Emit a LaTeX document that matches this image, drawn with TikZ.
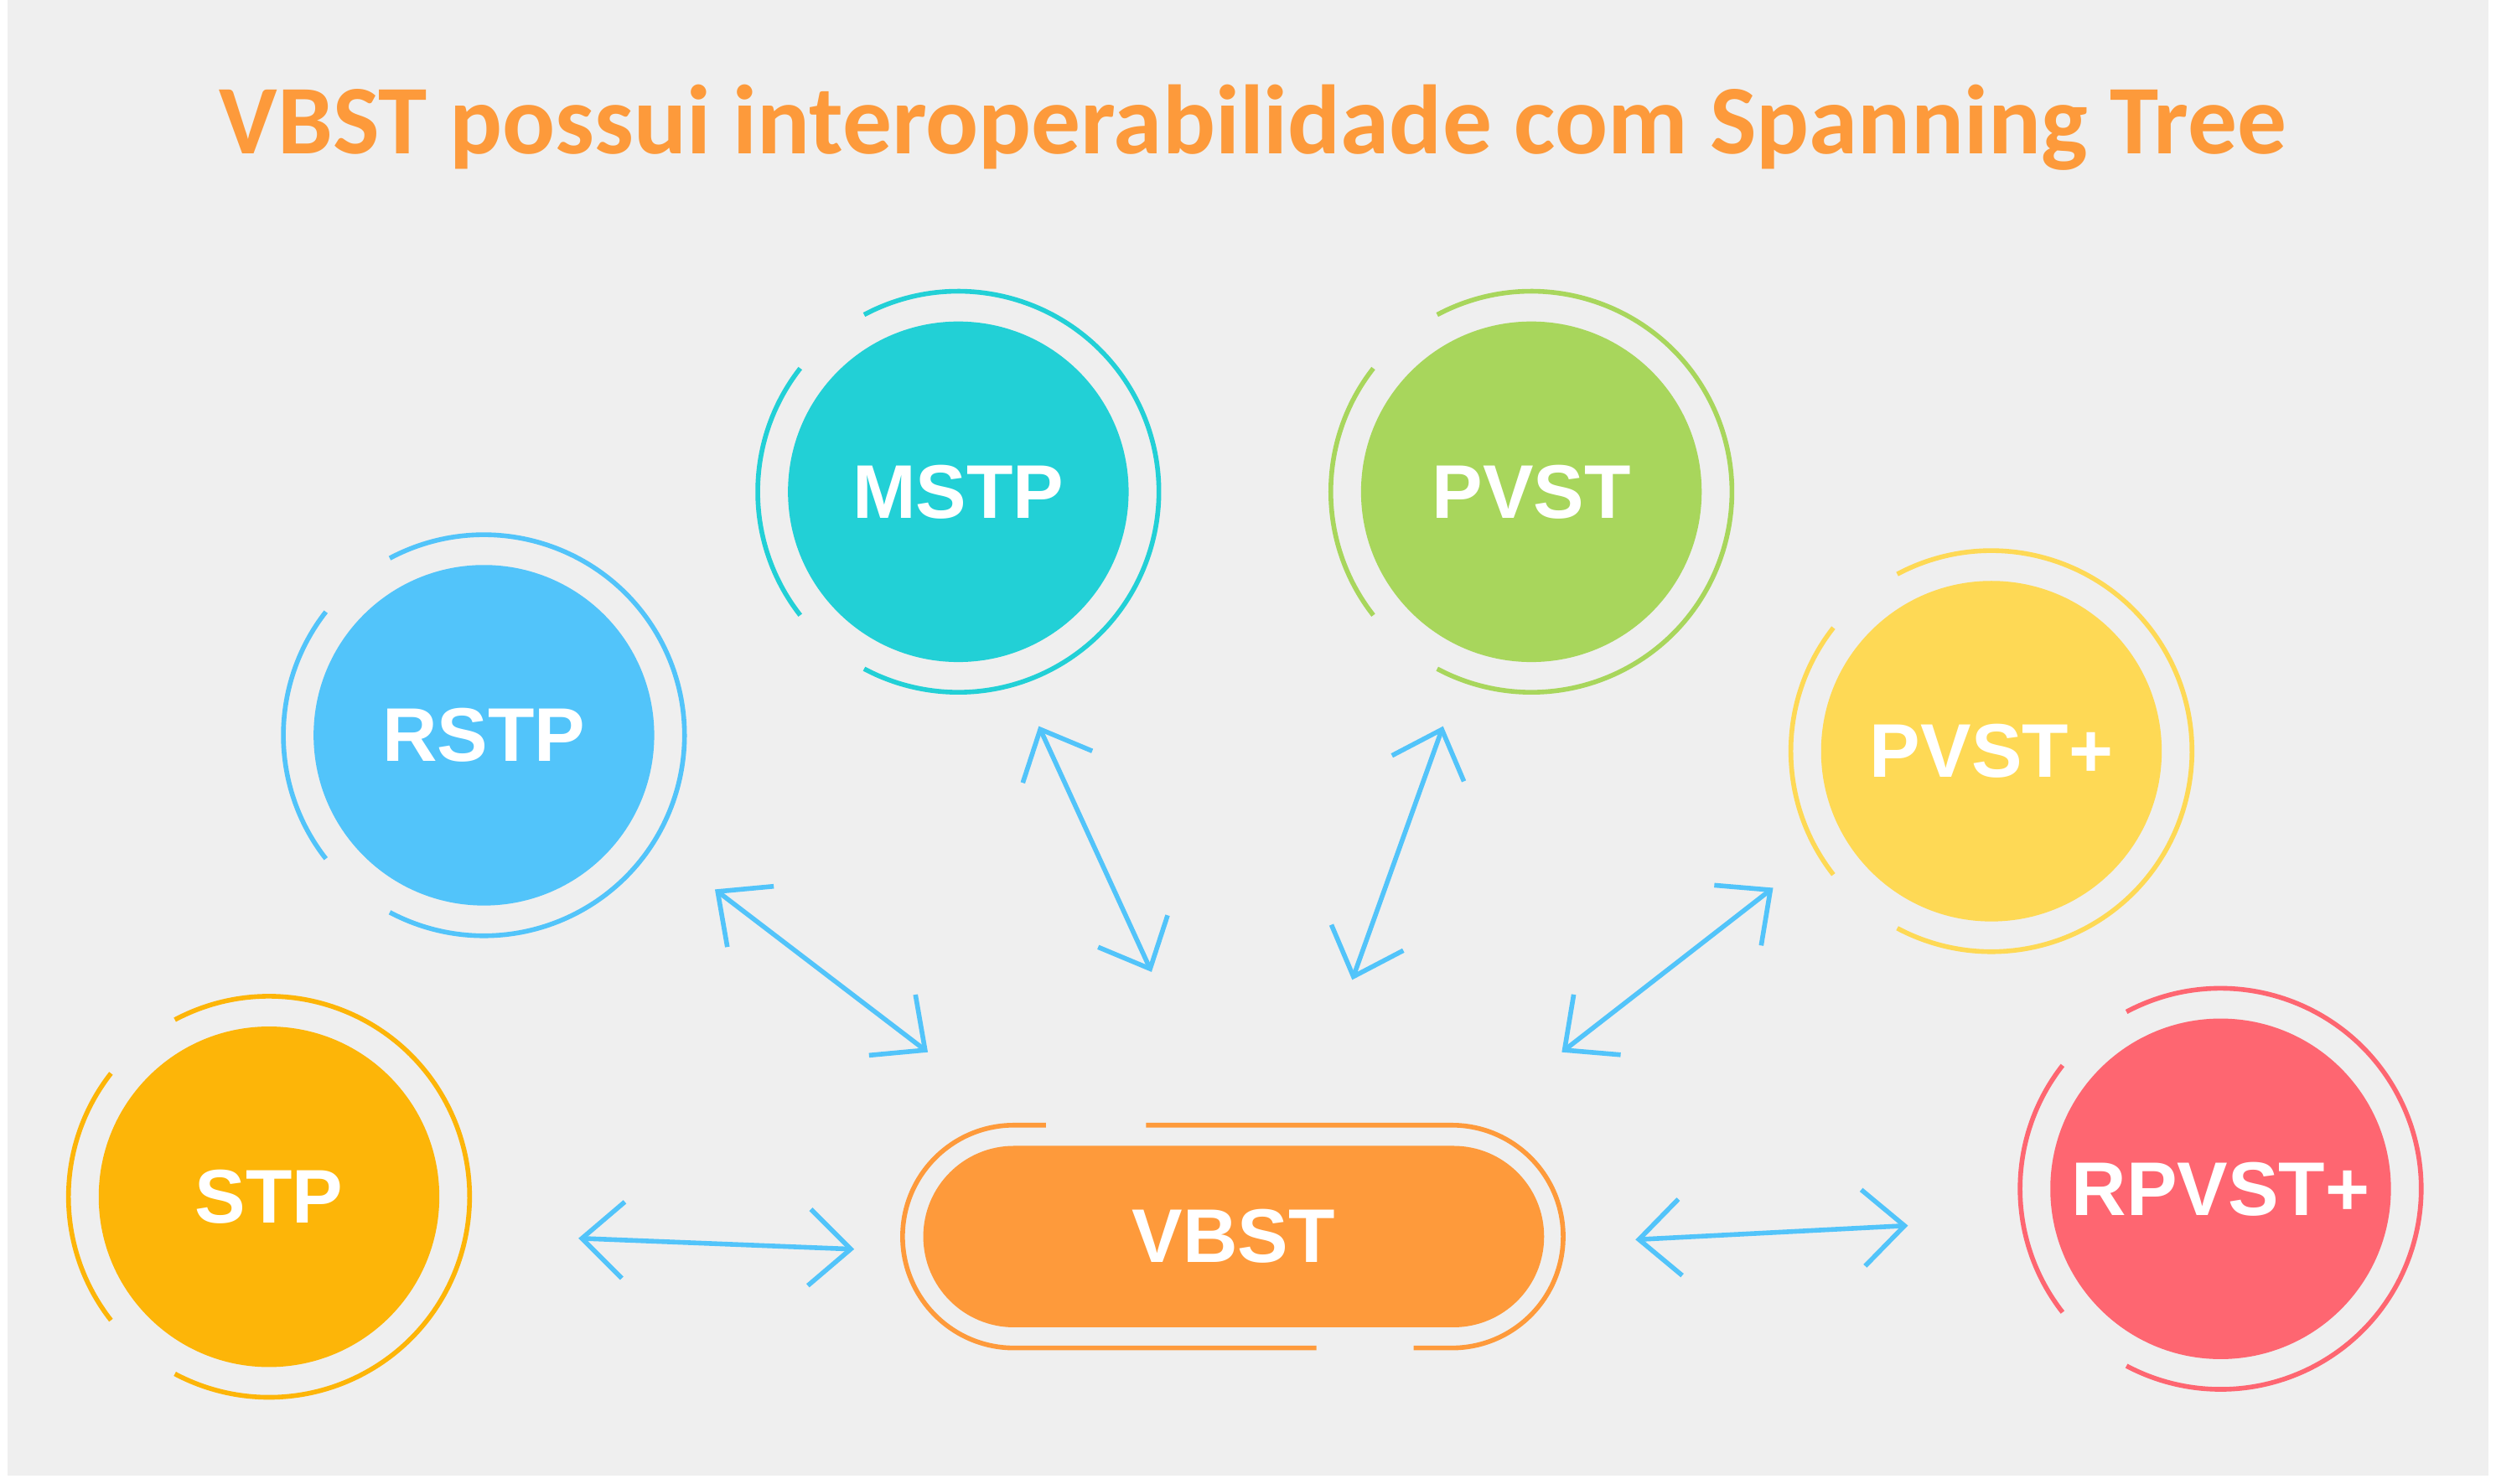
\documentclass[tikz,border=0pt]{standalone}
\usepackage{fontspec}
\setmainfont{Liberation Sans}
\newfontfamily\titlefont{Carlito}
\usetikzlibrary{arrows.meta,calc}
\definecolor{bg}{HTML}{EFEFEF}
\definecolor{ttl}{HTML}{FD9A3B}
\definecolor{cMSTP}{HTML}{22D0D6}
\definecolor{cPVST}{HTML}{A8D65C}
\definecolor{cRSTP}{HTML}{52C4FA}
\definecolor{cPVSTp}{HTML}{FED955}
\definecolor{cSTP}{HTML}{FDB508}
\definecolor{cRPV}{HTML}{FE6671}
\definecolor{cVB}{HTML}{FE9A3B}
\definecolor{arr}{HTML}{52C4FA}
\tikzset{
  ring/.style={line width=4.2pt},
  lbl/.style={text=white,font=\fontsize{68}{68}\selectfont\bfseries},
  dbl/.style={arr,line width=4.2pt,{Straight Barb[length=1.3cm,width=2.4cm,line width=4.2pt]}-{Straight Barb[length=1.3cm,width=2.4cm,line width=4.2pt]},shorten <=2pt,shorten >=2pt}
}
\newcommand\bub[5]{%
  \fill[#4] (#2,#3) circle (5.35cm);
  \node[lbl] (#1) at (#2,#3) {#5};
  \draw[ring,#4] ($(#1.center)+(118:6.3cm)$) arc (118:-118:6.3cm);
  \draw[ring,#4] ($(#1.center)+(142:6.3cm)$) arc (142:218:6.3cm);
}
\begin{document}
\begin{tikzpicture}[x=0.05cm,y=-0.05cm]
\useasboundingbox (0,0) rectangle (1568,932);
\fill[white] (0,0) rectangle (1568,932);
\fill[bg] (5,0) rectangle (1563,927);
\node[text=ttl,font=\titlefont\fontsize{88}{88}\selectfont\bfseries] (title) at (787,80) {VBST possui interoperabilidade com Spanning Tree};
\bub{mstp}{602}{309}{cMSTP}{MSTP}
\bub{pvst}{962}{309}{cPVST}{PVST}
\bub{rstp}{304}{462}{cRSTP}{RSTP}
\bub{pvstp}{1251}{472}{cPVSTp}{PVST+}
\bub{stp}{169}{752}{cSTP}{STP}
\bub{rpvst}{1395}{747}{cRPV}{RPVST+}
% VBST
\fill[cVB,rounded corners=2.85cm] (580,720) rectangle (970,834);
\node[lbl] (vbst) at (775,777) {VBST};
\draw[ring,cVB] (657,707) -- (637,707) arc (90:270:3.5cm) -- (827,847);
\draw[ring,cVB] (720,707) -- (912,707) arc (90:-90:3.5cm) -- (888,847);
% arrows
\coordinate (a1) at (448,558); \coordinate (b1) at (584,662);
\coordinate (a2) at (652,455); \coordinate (b2) at (724,612);
\coordinate (a3) at (907,455); \coordinate (b3) at (849,617);
\coordinate (a4) at (1115,557); \coordinate (b4) at (980,662);
\coordinate (a5) at (362,778); \coordinate (b5) at (538,785);
\coordinate (a6) at (1026,779); \coordinate (b6) at (1200,770);
\draw[dbl] (a1) -- (b1);
\draw[dbl] (a2) -- (b2);
\draw[dbl] (a3) -- (b3);
\draw[dbl] (a4) -- (b4);
\draw[dbl] (a5) -- (b5);
\draw[dbl] (a6) -- (b6);
\end{tikzpicture}
\end{document}
